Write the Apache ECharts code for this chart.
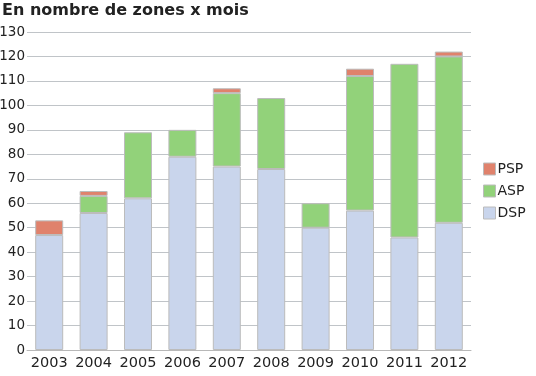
<!DOCTYPE html>
<html>
<head>
<meta charset="utf-8">
<script src="https://cdn.jsdelivr.net/npm/echarts@6/dist/echarts.min.js"></script>
<style>
  html, body { margin: 0; padding: 0; background: #fff; }
  #chart { width: 536px; height: 376px; }
</style>
</head>
<body>
<div id="chart"></div>
<script>
const years = ['2003', '2004', '2005', '2006', '2007', '2008', '2009', '2010', '2011', '2012'];
const dsp = [47, 56, 62, 79, 75, 74, 50, 57, 46, 52];
const asp = [0, 7, 27, 11, 30, 29, 10, 55, 71, 68];
const psp = [6, 2, 0, 0, 2, 0, 0, 3, 0, 2];

const chart = echarts.init(document.getElementById('chart'));

function bar(name, data, color) {
  return {
    name: name,
    type: 'bar',
    stack: 'total',
    // empty segments are not drawn
    data: data.map(v => v === 0 ? '-' : v),
    barWidth: 28,
    itemStyle: { color: color, borderColor: '#bcbcbc', borderWidth: 1 }
  };
}

chart.setOption({
  animation: false,
  textStyle: { fontFamily: 'DejaVu Sans' },
  title: {
    text: 'En nombre de zones x mois',
    left: 2,
    top: 3,
    padding: 0,
    textStyle: { fontSize: 16, fontWeight: 'bold', color: '#222', fontFamily: 'DejaVu Sans' }
  },
  legend: {
    orient: 'vertical',
    left: 478,
    top: 157,
    icon: 'rect',
    itemWidth: 12,
    itemHeight: 12,
    itemGap: 8,
    data: ['PSP', 'ASP', 'DSP'],
    textStyle: { fontSize: 14, color: '#222', padding: [0, 0, 0, -3] },
    itemStyle: { borderColor: '#bcbcbc', borderWidth: 1 }
  },
  grid: { left: 27, right: 65, top: 32, bottom: 26, outerBoundsMode: 'none' },
  xAxis: {
    type: 'category',
    data: years,
    axisLine: { lineStyle: { color: '#b8b8b8' } },
    axisTick: { length: 5, lineStyle: { color: '#b8b8b8' } },
    axisLabel: { fontSize: 14.5, color: '#222', margin: 6, interval: 0 }
  },
  yAxis: {
    type: 'value',
    min: 0,
    max: 130,
    interval: 10,
    axisLine: { show: false },
    axisTick: { show: false },
    axisLabel: { fontSize: 13.5, color: '#222', margin: 2 },
    splitLine: { lineStyle: { color: '#c0c4c8' } }
  },
  series: [
    bar('DSP', dsp, '#c9d5ec'),
    bar('ASP', asp, '#92d27a'),
    bar('PSP', psp, '#e0826c')
  ]
});
</script>
</body>
</html>
